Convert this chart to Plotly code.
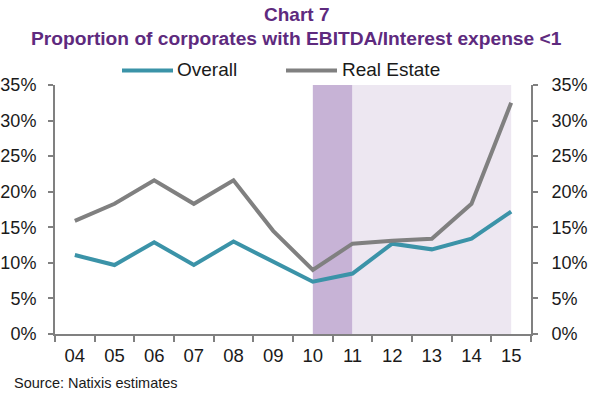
import plotly.graph_objects as go

years = ["04", "05", "06", "07", "08", "09", "10", "11", "12", "13", "14", "15"]
overall = [11.1, 9.7, 12.9, 9.7, 13.0, 10.1, 7.35, 8.5, 12.7, 11.9, 13.4, 17.2]
real_estate = [15.9, 18.3, 21.6, 18.3, 21.6, 14.5, 9.0, 12.7, 13.1, 13.4, 18.3, 32.5]
y_ticks = [0, 5, 10, 15, 20, 25, 30, 35]
y_labels = [f"{v}%" for v in y_ticks]

FONT = "Liberation Sans, Arial, sans-serif"
PURPLE = "#5e2a7e"
AXIS = "#808080"
TEXT = "#1a1a1a"
TEAL = "#3b93a8"
GREY = "#808080"

W, H = 600, 396
plot_left, plot_right = 55, 531
plot_top, plot_bottom = 85, 334
L, R, T, B = plot_left, W - plot_right, plot_top, H - plot_bottom


def ypaper(px):
    return (plot_bottom - px) / (plot_bottom - plot_top)


def xpaper(px):
    return (px - plot_left) / (plot_right - plot_left)


fig = go.Figure()
fig.add_trace(go.Scatter(x=years, y=overall, name="Overall", mode="lines",
                         line=dict(color=TEAL, width=4)))
fig.add_trace(go.Scatter(x=years, y=real_estate, name="Real Estate", mode="lines",
                         line=dict(color=GREY, width=4)))
fig.add_trace(go.Scatter(x=years, y=real_estate, yaxis="y2", mode="lines",
                         line=dict(width=0), showlegend=False, hoverinfo="skip",
                         opacity=0))

# shaded periods
fig.add_shape(type="rect", xref="x", yref="paper", x0=6, x1=7, y0=0, y1=1,
              fillcolor="#c7b3d6", line=dict(width=0), layer="below")
fig.add_shape(type="rect", xref="x", yref="paper", x0=7, x1=11, y0=0, y1=1,
              fillcolor="#ede7f1", line=dict(width=0), layer="below")

axis_common = dict(range=[0, 35], tickvals=y_ticks, ticktext=y_labels,
                   showgrid=False, zeroline=False, showline=True, automargin=False,
                   linecolor=AXIS, linewidth=2, ticks="outside", tickcolor=AXIS,
                   tickwidth=2, ticklen=5,
                   tickfont=dict(family=FONT, size=18, color=TEXT))

fig.update_layout(
    width=W, height=H,
    margin=dict(l=L, r=R, t=T, b=B),
    paper_bgcolor="white", plot_bgcolor="white",
    font=dict(family=FONT, color=TEXT),
    xaxis=dict(type="category", tickson="boundaries", showgrid=False, automargin=False,
               showline=True, linecolor=AXIS, linewidth=2, ticks="outside",
               tickcolor=AXIS, tickwidth=2, ticklen=6, ticklabelstandoff=4,
               tickfont=dict(family=FONT, size=18.5, color=TEXT),
               range=[-0.5, 11.5]),
    yaxis=dict(**axis_common, ticklabelstandoff=8),
    yaxis2=dict(**axis_common, overlaying="y", side="right", ticklabelstandoff=10),
    showlegend=False,
)

# legend drawn by hand: line sample + label
for (x0, x1, tx, name, col) in [(122, 173, 175, "Overall", TEAL),
                                (286, 337, 340, "Real Estate", GREY)]:
    fig.add_shape(type="line", xref="paper", yref="paper",
                  x0=xpaper(x0), x1=xpaper(x1), y0=ypaper(70.5), y1=ypaper(70.5),
                  line=dict(color=col, width=4))
    fig.add_annotation(text=name, x=xpaper(tx), xref="paper", xanchor="left",
                       y=ypaper(70), yref="paper", yanchor="middle", showarrow=False,
                       font=dict(family=FONT, size=19, color=TEXT))

fig.add_annotation(text="<b>Chart 7</b>", x=xpaper(296), xref="paper", xanchor="center",
                   y=ypaper(14), yref="paper", yanchor="middle", showarrow=False,
                   font=dict(family=FONT, size=19, color=PURPLE))
fig.add_annotation(text="<b>Proportion of corporates with EBITDA/Interest expense <1</b>",
                   x=xpaper(296), xref="paper", xanchor="center",
                   y=ypaper(38), yref="paper", yanchor="middle", showarrow=False,
                   font=dict(family=FONT, size=19.2, color=PURPLE))
fig.add_annotation(text="Source: Natixis estimates", x=xpaper(12), xref="paper",
                   xanchor="left", y=ypaper(383), yref="paper", yanchor="middle",
                   showarrow=False, font=dict(family=FONT, size=14.5, color=TEXT))

fig.write_html("out.html", config={"displayModeBar": False},
               post_script="document.body.style.margin='0';document.body.style.overflow='hidden';")
